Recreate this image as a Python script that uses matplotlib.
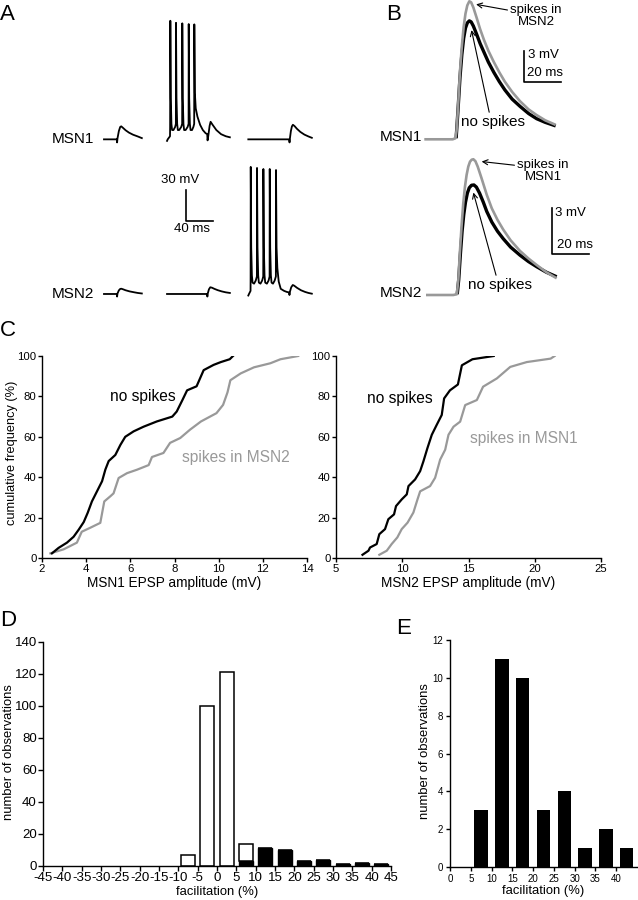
import matplotlib
matplotlib.use("Agg")
import matplotlib.pyplot as plt
import numpy as np

plt.rcParams['font.family'] = ['Liberation Sans', 'DejaVu Sans']

# ---------------- data ----------------
# Panel A: traces (time ms within segment, mV relative to baseline)
a_seg_start = [5.9, 99.2, 219.5]          # ms, start of the three sweeps
a_row_offset = {'MSN1': 165.2, 'MSN2': 15.5}

msn1_seg1 = [(0, 0), (19, 0), (19.4, -3), (20, 1), (22, 8), (24, 12), (25.5, 12.6), (28, 11.2),
             (32, 8.8), (37, 6.5), (43, 4.5), (50, 2.8), (56, 1.2)]
msn1_seg2 = [(0, -1.5), (1, 0), (4.4, 3), (4.6, 12), (4.9, 114.8), (5.6, 40), (6.5, 15), (7.5, 9),
             (9.5, 9), (12, 12), (13.1, 15), (13.3, 112.8), (14, 40), (15, 15), (16, 9), (18, 9),
             (21, 12), (22.4, 15), (22.6, 112.3), (23.3, 40), (24.3, 15), (25.3, 9), (27.5, 9),
             (30.5, 12), (31.9, 15), (32.1, 111.6), (32.8, 40), (33.8, 15), (34.8, 9), (37, 9),
             (39, 12), (40.2, 15), (40.4, 111.3), (41.2, 45), (42.5, 30), (45, 22), (49, 14),
             (53, 9), (57, 6), (59.5, 5), (60, -1), (61, 3), (63, 13), (64.5, 17), (67, 14.5),
             (73, 9), (80, 5), (87, 3), (93, 2)]
msn1_seg3 = [(0, 0), (60.5, 0), (61, -3), (61.6, 1), (63, 8), (64.5, 12.5), (66, 14.1), (68.5, 12.8),
             (72, 10.2), (77, 7.2), (83, 4.6), (89, 2.8), (94, 1.5)]
msn2_seg1 = [(0, 0), (19, 0), (19.4, -2.5), (20, 0.5), (22, 3.5), (24, 4.9), (25.6, 5.1), (28, 4.6),
             (32, 3.6), (38, 2.5), (45, 1.6), (50, 1), (56, 0.5)]
msn2_seg2 = [(0, 0), (59.3, 0), (59.7, -2.5), (60.3, 0.5), (62, 4.5), (64, 6.5), (66.5, 6.1), (70, 5),
             (75, 3.7), (81, 2.5), (87, 1.6), (93, 1)]
msn2_seg3 = [(0, -1.5), (1, 0), (3.3, 3), (3.4, 15), (3.6, 123), (4.3, 45), (5.3, 18), (6.3, 11),
             (8.5, 10), (11, 13), (12.7, 17), (12.9, 122), (13.6, 45), (14.6, 18), (15.6, 11),
             (18, 10), (20.5, 13), (22.1, 17), (22.3, 121), (23, 45), (24, 18), (25, 11),
             (27.5, 10), (30, 13), (31.5, 17), (31.7, 121), (32.4, 45), (33.4, 18), (34.4, 11),
             (36.5, 10), (39, 13), (40.8, 17), (41, 120), (41.8, 45), (43, 25), (45, 12), (48, 5),
             (53, 3), (57, 2), (60.5, 1.5), (60.9, -1), (61.5, 2), (63.5, 6.5), (65.8, 8.7),
             (68, 8), (72, 6), (78, 3.6), (84, 2), (89, 1), (94, 0.3)]

# Panel B: averaged EPSPs (ms, mV)
b1_gray = [(0, 0), (15.5, 0), (17.0, 0.1), (17.6, 0.8), (18.4, 3.0), (19.5, 6.6), (20.5, 9.0),
           (21.5, 10.9), (22.5, 12.2), (23.5, 13.0), (24.6, 13.4), (25.6, 13.3), (26.8, 12.8),
           (28.6, 11.8), (30.5, 10.7), (32.5, 9.7), (35, 8.6), (38, 7.5), (41, 6.5), (44, 5.6),
           (48, 4.6), (52.3, 3.7), (57, 2.9), (61.4, 2.35), (66, 1.85), (71.8, 1.4)]
b1_black = [(17.4, 0.1), (18.4, 2.8), (19.5, 6.0), (20.5, 8.2), (21.5, 9.8), (22.5, 10.8),
            (23.5, 11.3), (24.6, 11.5), (25.6, 11.4), (26.8, 11.0), (28.6, 10.2), (30.5, 9.3),
            (32.5, 8.5), (35, 7.5), (38, 6.5), (41, 5.6), (44, 4.8), (48, 3.9), (52.3, 3.2),
            (57, 2.5), (61.4, 2.0), (66, 1.65), (71.8, 1.3)]
b2_gray = [(0, 0), (14.5, 0), (16.4, 0.05), (17.2, 1.0), (18.1, 2.96), (19.0, 4.7), (19.8, 6.0),
           (20.7, 7.1), (21.6, 7.9), (22.5, 8.45), (23.4, 8.77), (24.3, 8.9), (25.2, 8.93),
           (26.3, 8.8), (27.5, 8.45), (29.5, 7.7), (32.3, 6.6), (35, 5.7), (38, 4.95), (41.1, 4.3),
           (45, 3.6), (50, 2.9), (54.5, 2.4), (58.9, 1.97), (64, 1.5), (69.5, 1.1)]
b2_black = [(16.6, 0.05), (17.4, 1.0), (18.3, 2.7), (19.2, 4.2), (20.1, 5.3), (21.0, 6.1),
            (22.0, 6.7), (23.0, 7.05), (24.2, 7.22), (25.5, 7.24), (26.8, 7.1), (28.5, 6.7),
            (30.5, 6.1), (32.3, 5.5), (35, 4.8), (38, 4.2), (41.1, 3.7), (45, 3.15), (50, 2.62),
            (54.5, 2.2), (58.9, 1.86), (64, 1.5), (69.5, 1.2)]

# Panel C: cumulative distributions
c1_nospk_x = [2.45, 2.75, 3.13, 3.43, 3.66, 3.89, 4.07, 4.26, 4.49, 4.72, 4.87, 5.02, 5.32, 5.55,
              5.77, 6.15, 6.6, 7.2, 7.9, 8.1, 8.35, 8.57, 9.0, 9.32, 9.77, 10.1, 10.5, 10.65]
c1_nospk_y = [2.3, 5, 7.6, 10.5, 14, 17.8, 22.4, 28, 33, 38, 43.8, 48, 51, 56, 60, 62.7, 65, 67.6,
              70, 72.5, 78, 83, 85, 93, 95.6, 97, 98.4, 100]
c1_spk_x = [2.38, 2.98, 3.58, 3.8, 4.19, 4.64, 4.82, 5.1, 5.24, 5.47, 5.85, 6.3, 6.83, 6.98, 7.5,
            7.8, 8.26, 8.7, 9.2, 9.9, 10.2, 10.4, 10.53, 11.0, 11.6, 12.34, 12.8, 13.6]
c1_spk_y = [2.3, 4.3, 7.6, 13, 15, 17.4, 28, 30.6, 32, 39.6, 42, 43.7, 46, 50, 52, 57, 59.4, 63.5,
            67.6, 71.7, 75.8, 82, 88, 91.4, 94.4, 96.4, 98.4, 100]
c2_nospk_x = [7.0, 7.45, 7.57, 8.07, 8.27, 8.7, 8.95, 9.38, 9.53, 9.96, 10.34, 10.47, 10.97, 11.35,
              11.6, 11.9, 12.23, 12.6, 12.98, 13.16, 13.6, 14.2, 14.5, 15.3, 16.9]
c2_nospk_y = [1.6, 3.6, 5.2, 6.9, 11.8, 14.3, 19.2, 21.6, 25.7, 29, 31.5, 35.6, 38.9, 43, 47.9,
              54.4, 61, 65.9, 70.8, 79, 83, 85.9, 95.4, 98.4, 100]
c2_spk_x = [8.27, 8.83, 9.2, 9.63, 9.96, 10.4, 10.84, 11.15, 11.35, 12.1, 12.48, 12.86, 13.24,
            13.49, 13.87, 14.37, 14.75, 15.63, 16.1, 17.14, 18.15, 19.4, 21.2, 21.5]
c2_spk_y = [1.6, 3.6, 6.9, 10.2, 14.3, 17.5, 22.5, 29, 33, 35.6, 39.7, 48.7, 53.6, 61, 65, 67.5,
            75.7, 78.2, 84.8, 88.9, 94.6, 97, 98.7, 100]

# Panel D: histogram of facilitation
d_bin_left = [-10, -5, 0, 5, 10, 15, 20, 25, 30, 35, 40]
d_total = [7, 100, 121, 14, 11, 10, 3, 4, 1, 2, 1]
d_facil = [0, 0, 0, 3, 11, 10, 3, 4, 1, 2, 1]
d_xticks = list(range(-45, 50, 5))

# Panel E: facilitated pairs only
e_bin_left = [5, 10, 15, 20, 25, 30, 35, 40]
e_counts = [3, 11, 10, 3, 4, 1, 2, 1]
e_xticks = list(range(0, 45, 5))

GRAY = '#999999'

# ---------------- figure ----------------
W, H = 638, 900
fig = plt.figure(figsize=(W / 100, H / 100), dpi=100)


def ax_px(x0, y0, x1, y1):
    return fig.add_axes([x0 / W, 1 - y1 / H, (x1 - x0) / W, (y1 - y0) / H])


def ftext(x, y, s, **kw):
    kw.setdefault('va', 'center')
    fig.text(x / W, 1 - y / H, s, **kw)


# Panel letters
for lab, (x, y) in {'A': (0, 15), 'B': (386, 15), 'C': (0, 331), 'D': (0, 620), 'E': (396, 628)}.items():
    ftext(x, y, lab, fontsize=16, ha='left')

# ---------- Panel A ----------
axA = ax_px(100, 0, 320, 310)
axA.set_xlim(0, 220 * 1.48)
axA.set_ylim(0, 310 / 1.033)
axA.axis('off')
rows = {'MSN1': [msn1_seg1, msn1_seg2, msn1_seg3], 'MSN2': [msn2_seg1, msn2_seg2, msn2_seg3]}
for name, segs in rows.items():
    off = a_row_offset[name]
    for start, seg in zip(a_seg_start, segs):
        t = np.array([p[0] for p in seg]) + start
        v = np.array([p[1] for p in seg]) + off
        axA.plot(t, v, color='black', lw=1.3, solid_joinstyle='round', clip_on=False)
# scale bar 30 mV / 40 ms
sb_t, sb_v = 127.3, 86.2
axA.plot([sb_t, sb_t, sb_t + 40], [sb_v + 30, sb_v, sb_v], color='black', lw=1.2)
ftext(52, 139, 'MSN1', fontsize=11, ha='left')
ftext(52, 294, 'MSN2', fontsize=11, ha='left')
ftext(180, 180, '30 mV', fontsize=9.5, ha='center')
ftext(192, 229, '40 ms', fontsize=9.5, ha='center')


# ---------- Panel B ----------
def draw_b(ax, gray, black, bar_t, bar_v, spk_label, spk_txt_xy, nospk_txt_xy,
           spk_arrow_off, nospk_arrow_off):
    gt = [p[0] for p in gray]; gv = [p[1] for p in gray]
    bt = [p[0] for p in black]; bv = [p[1] for p in black]
    ax.plot(bt, bv, color='black', lw=2.4, clip_on=False, solid_capstyle='butt',
            solid_joinstyle='round')
    ax.plot(gt, gv, color=GRAY, lw=1.9, clip_on=False, solid_capstyle='butt',
            solid_joinstyle='round')
    ax.plot([bar_t, bar_t, bar_t + 20], [bar_v + 3, bar_v, bar_v], color='black', lw=1.2)
    ax.axis('off')
    gi = int(np.argmax(gv)); bi = int(np.argmax(bv))
    ax.annotate(spk_label, xy=(gt[gi] + spk_arrow_off[0], gv[gi] + spk_arrow_off[1]),
                xytext=(spk_txt_xy[0], H - spk_txt_xy[1]), textcoords='figure pixels',
                ha='center', va='center', fontsize=9.5, linespacing=1.1,
                arrowprops=dict(arrowstyle='->', lw=0.8, color='black', shrinkA=0, shrinkB=0,
                                mutation_scale=9, relpos=(0, 0.72)))
    ax.annotate('no spikes', xy=(bt[bi] + nospk_arrow_off[0], bv[bi] + nospk_arrow_off[1]),
                xytext=(nospk_txt_xy[0], H - nospk_txt_xy[1]), textcoords='figure pixels',
                ha='center', va='center', fontsize=11,
                arrowprops=dict(arrowstyle='->', lw=0.8, color='black', shrinkA=0, shrinkB=0,
                                mutation_scale=9, relpos=(0.45, 1.0)))
    return ax


axB1 = ax_px(420, 0, 600, 146)
axB1.set_xlim((420 - 424.3) / 1.83, (600 - 424.3) / 1.83)
axB1.set_ylim(-(146 - 139.3) / 10.3, 139.3 / 10.3)
draw_b(axB1, b1_gray, b1_black, 54.5, 5.59, 'spikes in\nMSN2',
       (536, 16), (493, 122), (3.7, -0.3), (1.2, -0.9))
ftext(528, 55, '3 mV', fontsize=9.5, ha='left')
ftext(527, 73, '20 ms', fontsize=9.5, ha='left')
ftext(422, 137, 'MSN1', fontsize=11, ha='right')

axB2 = ax_px(420, 150, 600, 310)
axB2.set_xlim((420 - 426) / 1.88, (600 - 426) / 1.88)
axB2.set_ylim(-(310 - 295) / 15.2, (295 - 150) / 15.2)
draw_b(axB2, b2_gray, b2_black, 66.9, 2.7, 'spikes in\nMSN1',
       (543, 171), (500, 285), (4.4, -0.15), (-0.3, -0.5))
ftext(555, 213, '3 mV', fontsize=9.5, ha='left')
ftext(557, 245, '20 ms', fontsize=9.5, ha='left')
ftext(422, 293, 'MSN2', fontsize=11, ha='right')


# ---------- Panel C ----------
def style_c(ax):
    for s in ('top', 'right'):
        ax.spines[s].set_visible(False)
    for s in ('left', 'bottom'):
        ax.spines[s].set_linewidth(1.0)
    ax.tick_params(direction='out', length=3, width=1, labelsize=8.2, pad=1)
    ax.set_ylim(0, 100)
    ax.set_yticks(range(0, 101, 20))


axC1 = ax_px(42, 356, 307, 558)
axC1.plot(c1_spk_x, c1_spk_y, color=GRAY, lw=1.6)
axC1.plot(c1_nospk_x, c1_nospk_y, color='black', lw=1.6)
axC1.set_xlim(2, 14)
axC1.set_xticks(range(2, 15, 2))
style_c(axC1)
axC1.set_xlabel('MSN1 EPSP amplitude (mV)', fontsize=9.8)
axC1.xaxis.set_label_coords(0.5, -0.087)
axC1.set_ylabel('cumulative frequency (%)', fontsize=9.2)
axC1.yaxis.set_label_coords((18 - 42) / 265, 0.52)
ftext(110, 397, 'no spikes', fontsize=11.2, ha='left')
ftext(182, 458, 'spikes in MSN2', fontsize=11.2, ha='left', color=GRAY)

axC2 = ax_px(336, 356, 601, 558)
axC2.plot(c2_spk_x, c2_spk_y, color=GRAY, lw=1.6)
axC2.plot(c2_nospk_x, c2_nospk_y, color='black', lw=1.6)
axC2.set_xlim(5, 25)
axC2.set_xticks(range(5, 26, 5))
style_c(axC2)
axC2.set_xlabel('MSN2 EPSP amplitude (mV)', fontsize=9.8)
axC2.xaxis.set_label_coords(0.5, -0.087)
ftext(367, 398, 'no spikes', fontsize=11.2, ha='left')
ftext(470, 438, 'spikes in MSN1', fontsize=11.2, ha='left', color=GRAY)

# ---------- Panel D ----------
axD = ax_px(43, 642, 391, 866)
d_centers = [b + 2.5 for b in d_bin_left]
d_white = [t - f for t, f in zip(d_total, d_facil)]
axD.bar(d_centers, d_facil, width=3.6, color='black', edgecolor='black', lw=1.0)
axD.bar(d_centers, d_white, bottom=d_facil, width=3.6, color='white', edgecolor='black', lw=1.1)
axD.set_xlim(-45, 45)
axD.set_ylim(0, 140)
axD.set_xticks(d_xticks)
axD.set_xticklabels([str(v) for v in d_xticks])
axD.set_yticks(range(0, 141, 20))
for s in ('top', 'right'):
    axD.spines[s].set_visible(False)
for s in ('left', 'bottom'):
    axD.spines[s].set_linewidth(1.0)
axD.tick_params(direction='out', length=3.5, width=1, labelsize=9.5, pad=1)
axD.tick_params(axis='x', labelsize=9.6)
axD.set_xlabel('facilitation (%)', fontsize=9.4, labelpad=1)
axD.set_ylabel('number of observations', fontsize=9.4)
axD.yaxis.set_label_coords((15 - 43) / 348, 0.51)

# ---------- Panel E ----------
axE = ax_px(450, 640, 637, 867)
e_centers = [b + 2.5 for b in e_bin_left]
axE.bar(e_centers, e_counts, width=3.25, color='black')
axE.set_xlim(0, 45)
axE.set_ylim(0, 12)
axE.set_xticks(e_xticks)
axE.set_yticks(range(0, 13, 2))
for s in ('top', 'right'):
    axE.spines[s].set_visible(False)
for s in ('left', 'bottom'):
    axE.spines[s].set_linewidth(1.0)
axE.tick_params(direction='out', length=3, width=1, labelsize=7, pad=2)
axE.set_xlabel('facilitation (%)', fontsize=9.4, labelpad=1)
axE.set_ylabel('number of observations', fontsize=9.4)
axE.yaxis.set_label_coords((431 - 450) / 187, 0.51)

fig.savefig('out.png', dpi=100)
